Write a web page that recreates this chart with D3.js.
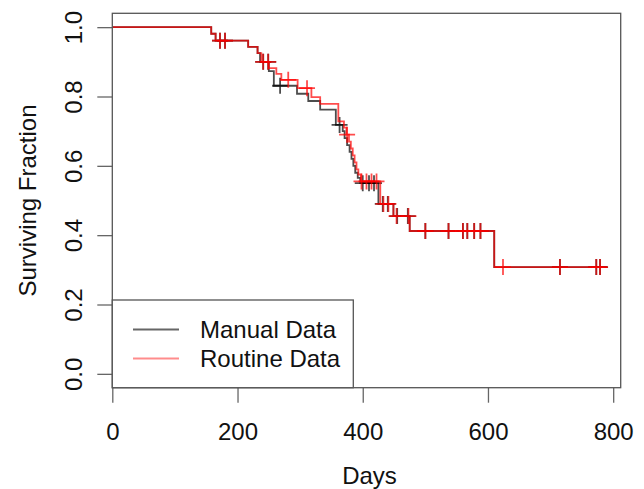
<!DOCTYPE html>
<html>
<head>
<meta charset="utf-8">
<script src="https://cdn.jsdelivr.net/npm/d3@7"></script>
<style>
  body { margin: 0; background: #fff; }
  svg { display: block; font-family: "Liberation Sans", Arial, sans-serif; }
</style>
</head>
<body>
<svg id="chart" width="644" height="489"></svg>
<script>
// Kaplan-Meier step data (days, surviving fraction)
const manualTimes = [0, 158, 165, 217, 232, 236, 250, 258, 295, 313, 332, 357, 368, 371, 375, 379, 382, 385, 388, 392, 396, 425, 449, 475, 610];
const manualSurv  = [1.0, 0.981, 0.961, 0.943, 0.925, 0.90, 0.873, 0.831, 0.808, 0.787, 0.762, 0.718, 0.70, 0.68, 0.66, 0.64, 0.62, 0.60, 0.58, 0.565, 0.55, 0.49, 0.455, 0.412, 0.308];
const manualCensor = [172, 180, 241, 249, 268, 363, 400, 410, 418, 432, 440, 455, 472, 500, 537, 560, 567, 578, 588, 715, 773, 779];

const routineTimes = [0, 158, 165, 217, 232, 238, 250, 262, 270, 296, 318, 332, 361, 370, 374, 378, 381, 384, 387, 390, 393, 397, 428, 449, 475, 610];
const routineSurv  = [1.0, 0.981, 0.961, 0.943, 0.925, 0.90, 0.882, 0.865, 0.848, 0.824, 0.798, 0.779, 0.728, 0.71, 0.69, 0.67, 0.65, 0.63, 0.61, 0.59, 0.575, 0.555, 0.49, 0.455, 0.412, 0.308];
const routineCensor = [172, 180, 241, 249, 281, 311, 375, 398, 406, 414, 422, 433, 441, 454, 473, 500, 537, 560, 567, 578, 588, 624, 715, 773, 779];

const lastDay = 790;

const xTicks = [0, 200, 400, 600, 800];
const yTicks = [0, 0.2, 0.4, 0.6, 0.8, 1.0];
const seriesNames = ["Manual Data", "Routine Data"];
const seriesColors = ["rgba(0,0,0,0.7)", "rgba(255,0,0,0.7)"];

const svg = d3.select("#chart");
const fontSize = 24;

// plot box in pixels
const boxLeft = 112.3, boxRight = 620.7, boxTop = 13.3, boxBottom = 387.7;

const x = d3.scaleLinear().domain([0, 812]).range([boxLeft, boxRight]);
const y = d3.scaleLinear().domain([-0.04, 1.04]).range([boxBottom, boxTop]);

// helper: survival value at time t for a step curve
function survAt(times, surv, t) {
    const i = d3.bisectRight(times, t) - 1;
    return surv[Math.max(0, i)];
}

const series = [
    { times: manualTimes, surv: manualSurv, censor: manualCensor, color: seriesColors[0] },
    { times: routineTimes, surv: routineSurv, censor: routineCensor, color: seriesColors[1] }
];

const line = d3.line()
    .x(d => x(d[0]))
    .y(d => y(d[1]))
    .curve(d3.curveStepAfter);

const curveLayer = svg.append("g");

series.forEach(s => {
    const pts = s.times.map((t, i) => [t, s.surv[i]]);
    pts.push([lastDay, s.surv[s.surv.length - 1]]);

    curveLayer.append("path")
        .attr("d", line(pts))
        .attr("fill", "none")
        .attr("stroke", s.color)
        .attr("stroke-width", 1.8);

    // censoring marks
    curveLayer.selectAll(null)
        .data(s.censor)
        .enter()
        .append("path")
        .attr("transform", t => `translate(${x(t)},${y(survAt(s.times, s.surv, t))})`)
        .attr("d", "M-8,0H8M0,-8V8")
        .attr("fill", "none")
        .attr("stroke", s.color)
        .attr("stroke-width", 1.8);
});

// x axis
const xAxis = svg.append("g")
    .attr("transform", `translate(0,${boxBottom})`)
    .call(d3.axisBottom(x).tickValues(xTicks).tickSize(15).tickFormat(d3.format("d")));
xAxis.select(".domain").remove();
xAxis.selectAll("line").attr("stroke", "#666").attr("stroke-width", 1.3);
xAxis.selectAll("text")
    .attr("y", 44).attr("dy", null)
    .attr("dominant-baseline", "central")
    .attr("font-size", fontSize).attr("fill", "#111");

// y axis with R style vertical labels
const yAxis = svg.append("g")
    .attr("transform", `translate(${boxLeft},0)`)
    .call(d3.axisLeft(y).tickValues(yTicks).tickSize(15).tickFormat(d3.format(".1f")));
yAxis.select(".domain").remove();
yAxis.selectAll("line").attr("stroke", "#666").attr("stroke-width", 1.3);
yAxis.selectAll("text")
    .attr("x", null).attr("dy", null)
    .attr("transform", "translate(-39,0) rotate(-90)")
    .attr("text-anchor", "middle")
    .attr("dominant-baseline", "central")
    .attr("font-size", fontSize)
    .attr("fill", "#111");

// plot box
svg.append("rect")
    .attr("x", boxLeft).attr("y", boxTop)
    .attr("width", boxRight - boxLeft).attr("height", boxBottom - boxTop)
    .attr("fill", "none")
    .attr("stroke", "#555")
    .attr("stroke-width", 1.3);

// axis titles
svg.append("text")
    .attr("x", (boxLeft + boxRight) / 2 + 3)
    .attr("y", 475)
    .attr("text-anchor", "middle")
    .attr("dominant-baseline", "central")
    .attr("font-size", fontSize)
    .attr("fill", "#111")
    .text("Days");

svg.append("text")
    .attr("transform", `translate(27,${(boxTop + boxBottom) / 2}) rotate(-90)`)
    .attr("text-anchor", "middle")
    .attr("dominant-baseline", "central")
    .attr("font-size", fontSize)
    .attr("fill", "#111")
    .text("Surviving Fraction");

// legend
const legend = svg.append("g");
legend.append("rect")
    .attr("x", boxLeft).attr("y", 300)
    .attr("width", 353.3 - boxLeft).attr("height", boxBottom - 300)
    .attr("fill", "#fff")
    .attr("stroke", "#555")
    .attr("stroke-width", 1.3);

seriesNames.forEach((name, i) => {
    const ly = 329.5 + i * 29;
    legend.append("line")
        .attr("x1", 133).attr("x2", 179)
        .attr("y1", ly).attr("y2", ly)
        .attr("stroke", i === 0 ? "rgba(0,0,0,0.6)" : "rgba(255,0,0,0.45)")
        .attr("stroke-width", 1.8);
    legend.append("text")
        .attr("x", 200).attr("y", ly)
        .attr("dominant-baseline", "central")
        .attr("font-size", fontSize)
        .attr("fill", "#111")
        .text(name);
});
</script>
</body>
</html>
